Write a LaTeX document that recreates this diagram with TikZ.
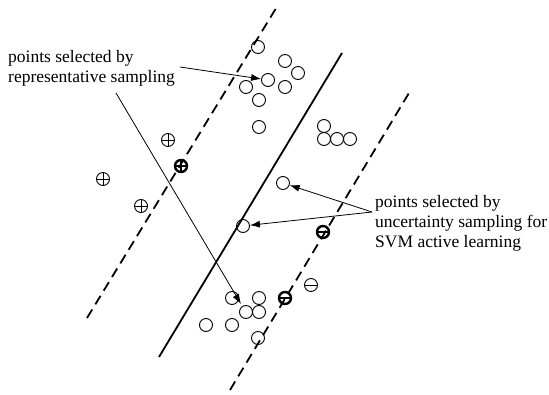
\documentclass[tikz,border=0pt]{standalone}
\usepackage{fontspec}
\setmainfont{Liberation Serif}
\usetikzlibrary{arrows.meta}
\tikzset{
  pt/.style={circle,draw,line width=0.9pt,minimum size=13pt,inner sep=0pt},
  plusmark/.style={pt,path picture={\draw[line width=0.9pt]
      (path picture bounding box.north) -- (path picture bounding box.south)
      (path picture bounding box.west) -- (path picture bounding box.east);}},
  minusmark/.style={pt,path picture={\draw[line width=0.9pt]
      (path picture bounding box.west) -- (path picture bounding box.east);}},
  boldplus/.style={pt,line width=2.4pt,minimum size=12pt,path picture={\draw[line width=2.4pt]
      (path picture bounding box.north) -- (path picture bounding box.south)
      (path picture bounding box.west) -- (path picture bounding box.east);}},
  boldminus/.style={pt,line width=2.4pt,minimum size=12pt,path picture={\draw[line width=2.4pt]
      (path picture bounding box.west) -- (path picture bounding box.east);}},
  margin/.style={line width=1.8pt,dash pattern=on 10pt off 6pt},
  hyper/.style={line width=1.8pt},
  callout/.style={line width=0.8pt,-{Latex[length=10pt,width=7pt]}},
  label/.style={anchor=north west,inner sep=0pt,align=left,font=\fontsize{17.5}{20}\selectfont}
}
\begin{document}
\begin{tikzpicture}[x=1pt,y=-1pt]
\useasboundingbox[fill=white] (0,0) rectangle (549,395);
% lines
\draw[margin] (87,318) -- (278,5);
\draw[hyper] (159,357) -- (342,53);
\draw[margin] (230,390) -- (409,93);
% unlabeled points (circles)
\node[pt] (c1) at (258,47) {};
\node[pt] (c2) at (285,61) {};
\node[pt] (c3) at (298,73) {};
\node[pt] (c4) at (268,80) {};
\node[pt] (c5) at (246,87) {};
\node[pt] (c6) at (285,87) {};
\node[pt] (c7) at (259,100) {};
\node[pt] (c8) at (259,127) {};
\node[pt] (c9) at (324,126) {};
\node[pt] (c10) at (324,139) {};
\node[pt] (c11) at (337,139) {};
\node[pt] (c12) at (350,139) {};
\node[pt] (u1) at (283,183) {};
\node[pt] (u2) at (243,226) {};
\node[pt] (c13) at (232,298) {};
\node[pt] (c14) at (259,298) {};
\node[pt] (c15) at (246,312) {};
\node[pt] (c16) at (259,312) {};
\node[pt] (c17) at (206,325) {};
\node[pt] (c18) at (232,325) {};
\node[pt] (c19) at (258,338) {};
% positive points
\node[plusmark] (p1) at (168,140) {};
\node[boldplus] (p2) at (181,166) {};
\node[plusmark] (p3) at (103,179) {};
\node[plusmark] (p4) at (141,206) {};
% negative points
\node[boldminus] (m1) at (323,232) {};
\node[boldminus] (m2) at (285,298) {};
\node[minusmark] (m3) at (311,285) {};
% labels
\node[label] (t1) at (8,50) {points selected by\\representative sampling};
\node[label] (t2) at (375,195) {points selected by\\uncertainty sampling for\\SVM active learning};
% callouts
\coordinate (s1) at (180,67);
\coordinate (s2) at (116,93);
\coordinate (e2) at (241,304);
\coordinate (s3) at (372,212);
\draw[callout] (s1) -- (c4);
\draw[callout] (s2) -- (e2);
\draw[callout] (s3) -- (u1);
\draw[callout] (s3) -- (u2);
\end{tikzpicture}
\end{document}
